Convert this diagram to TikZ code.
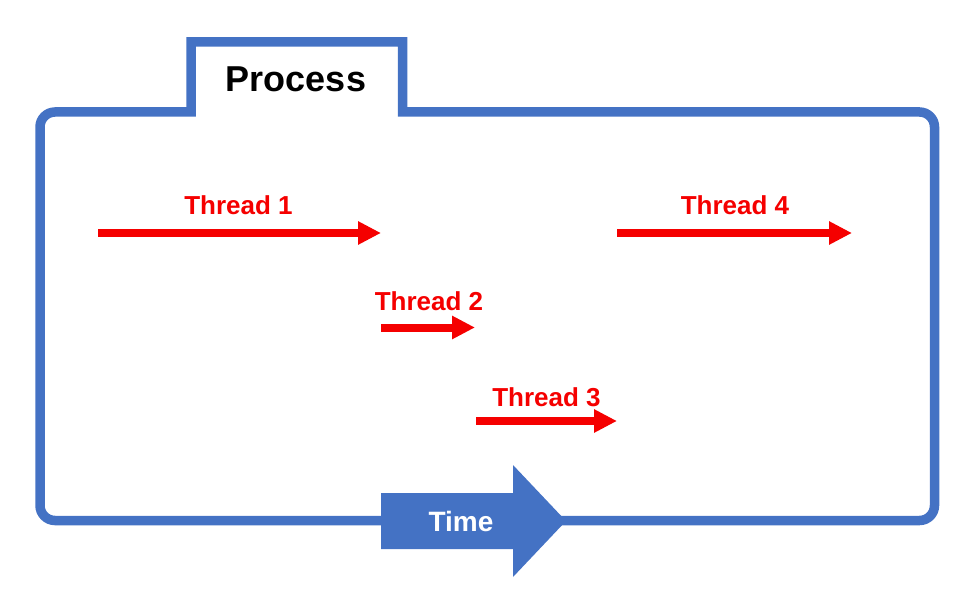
\documentclass[tikz,border=0pt]{standalone}
\usepackage{fontspec}
\setmainfont{Liberation Sans}
\definecolor{procblue}{RGB}{68, 114, 196}
\definecolor{threadred}{RGB}{245, 0, 0}
\usetikzlibrary{arrows.meta, positioning, calc}

\tikzset{
  procline/.style={draw=procblue, line width=9.5pt},
  threadlbl/.style={text=threadred, font=\fontsize{26}{30}\selectfont\bfseries, anchor=base, inner sep=0pt},
  threadarrow/.style={draw=threadred, line width=8pt, -{Triangle[length=23pt, width=22pt]}}
}

\begin{document}
\begin{tikzpicture}[x=1pt, y=-1pt]
  \useasboundingbox (0,0) rectangle (980,596);

  % Process outline with tab
  \draw[procline] (120,112) -- (191,112) -- (191,42) -- (402.5,42) -- (402.5,112) -- (600,112)
    [rounded corners=15pt] -- (934.5,112) -- (934.5,520.5) -- (40,520.5) -- (40,112) -- cycle;
  \node[font=\fontsize{36}{40}\selectfont\bfseries, anchor=base, inner sep=0pt] (proc) at (296,92) {Process};

  % Time arrow
  \fill[procblue] (381,493) -- (513,493) -- (513,465) -- (566,521) -- (513,577) -- (513,549) -- (381,549) -- cycle;
  \node[text=white, font=\fontsize{28}{32}\selectfont\bfseries, anchor=base, inner sep=0pt] (time) at (461,531) {Time};

  % Threads
  \coordinate (t1s) at (98,233);  \coordinate (t1e) at (381,233);
  \coordinate (t2s) at (381,327.5); \coordinate (t2e) at (475,327.5);
  \coordinate (t3s) at (476,421); \coordinate (t3e) at (617,421);
  \coordinate (t4s) at (617,233); \coordinate (t4e) at (852,233);

  \node[threadlbl] (lblone) at (238.5,215) {Thread 1};
  \node[threadlbl] (lbltwo) at (429,310) {Thread 2};
  \node[threadlbl] (lblthree) at (546.5,406) {Thread 3};
  \node[threadlbl] (lblfour) at (735,215) {Thread 4};

  \draw[threadarrow] (t1s) -- (t1e);
  \draw[threadarrow] (t2s) -- (t2e);
  \draw[threadarrow] (t3s) -- (t3e);
  \draw[threadarrow] (t4s) -- (t4e);
\end{tikzpicture}
\end{document}
